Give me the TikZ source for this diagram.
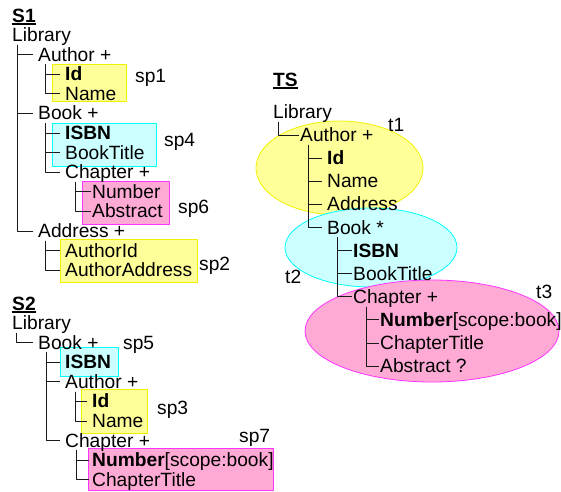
\documentclass[tikz,border=0pt]{standalone}
\usepackage{fontspec}
\setmainfont{Liberation Sans}
\definecolor{yfill}{HTML}{FFFF99}
\definecolor{yline}{HTML}{F0F000}
\definecolor{cfill}{HTML}{CCFFFF}
\definecolor{cline}{HTML}{00FFFF}
\definecolor{pfill}{HTML}{FFAAD5}
\definecolor{pline}{HTML}{FF33FF}
\begin{document}
\begin{tikzpicture}[x=1pt,y=-1pt,line join=round,font=\fontsize{19.2pt}{22pt}\selectfont,
	item/.style={anchor=west,inner xsep=0pt,inner ysep=0pt,text height=16pt,text depth=3pt},
	branch/.style={draw=black!90,line width=0.9pt,shorten >=5pt},
	twig/.style={branch,shorten >=1pt},
	ybox/.style={fill=yfill,draw=yline,line width=0.8pt},
	cbox/.style={fill=cfill,draw=cline,line width=0.8pt},
	pbox/.style={fill=pfill,draw=pline,line width=0.8pt}]
	\useasboundingbox (0,0) rectangle (561,491);
	\def \sdy{19.6};
	\def \tdy{23.1};
	% highlight boxes and ellipses
	\filldraw[ybox] (52,64) rectangle (126,101);
	\filldraw[cbox] (52,123) rectangle (156,166);
	\filldraw[pbox] (82,181) rectangle (169,224);
	\filldraw[ybox] (60,239) rectangle (197,282);
	\filldraw[cbox] (60,347) rectangle (118,376);
	\filldraw[ybox] (81,389) rectangle (147,433);
	\filldraw[pbox] (88,448) rectangle (273,490);
	\filldraw[ybox] (339.5,168) ellipse [x radius=83.5pt, y radius=47pt];
	\filldraw[cbox] (371,247.5) ellipse [x radius=86pt, y radius=39.5pt];
	\filldraw[pbox] (432,331) ellipse [x radius=127pt, y radius=51pt];
	% titles
	\foreach \n/\x/\y/\t in {s1/12/16/S1, s2/12/304/S2, ts/273/80/TS}{
		\node[item] (\n) at (\x,\y) {\textbf{\t}};
		\draw[line width=1.8pt] ([yshift=-1.5pt]\n.base west) -- ([yshift=-1.5pt]\n.base east);
	}
	% S1
	\foreach \n/\x/\r/\t in {lib1/12/0/Library, aut1/38/1/{Author +}, id1/65/2/\textbf{Id}, nam1/65/3/Name,
		boo1/38/4/{Book +}, isb1/65/5/\textbf{ISBN}, tit1/65/6/BookTitle, cha1/65/7/{Chapter +},
		num1/92/8/Number, abs1/92/9/Abstract, add1/38/10/{Address +}, aid1/65/11/AuthorId, aad1/65/12/AuthorAddress}
		\node[item] (\n) at (\x,35+\sdy*\r) {\t};
	% S2
	\foreach \n/\x/\r/\t in {lib2/12/0/Library, boo2/38/1/{Book +}, isb2/65/2/\textbf{ISBN}, aut2/65/3/{Author +},
		id2/92/4/\textbf{Id}, nam2/92/5/Name, cha2/65/6/{Chapter +},
		num2/92/7/{\textbf{Number}[scope:book]}, cht2/92/8/ChapterTitle}
		\node[item] (\n) at (\x,323+\sdy*\r) {\t};
	% TS
	\foreach \n/\x/\r/\t in {libT/273/0/Library, autT/300/1/{Author +}, idT/327/2/\textbf{Id}, namT/327/3/Name,
		addT/327/4/Address, bokT/327/5/{Book *}, isbT/353/6/\textbf{ISBN}, titT/353/7/BookTitle,
		chaT/353/8/{Chapter +}, numT/380/9/{\textbf{Number}[scope:book]}, chtT/380/10/ChapterTitle, absT/380/11/{Abstract ?}}
		\node[item] (\n) at (\x,112+\tdy*\r) {\t};
	% labels
	\foreach \n/\x/\y in {sp1/135/75.5, sp4/164/140, sp6/178/206.5, sp2/199/263.5, sp5/123/343,
		sp3/157/408, sp7/239/435.5, t1/388/125, t2/285/276.5, t3/536/291.5}
		\node[item] (\n) at (\x,\y) {\n};
	% tree lines
	\foreach \c in {aut1,boo1,add1}{\draw[branch] ([xshift=5pt]lib1.south west) |- (\c.west);}
	\foreach \c in {id1,nam1}{\draw[branch] ([xshift=7pt]aut1.south west) |- (\c.west);}
	\foreach \c in {isb1,tit1,cha1}{\draw[branch] ([xshift=7pt]boo1.south west) |- (\c.west);}
	\foreach \c in {num1,abs1}{\draw[twig] ([xshift=10pt]cha1.south west) |- (\c.west);}
	\foreach \c in {aid1,aad1}{\draw[branch] ([xshift=7pt]add1.south west) |- (\c.west);}
	\draw[branch] ([xshift=4pt]lib2.south west) |- (boo2.west);
	\foreach \c in {isb2,aut2,cha2}{\draw[branch] ([xshift=8pt]boo2.south west) |- (\c.west);}
	\foreach \c in {id2,nam2}{\draw[branch] ([xshift=10pt]aut2.south west) |- (\c.west);}
	\foreach \c in {num2,cht2}{\draw[branch,shorten >=3pt] ([xshift=11pt]cha2.south west) |- (\c.west);}
	\draw[twig] ([xshift=5pt]libT.south west) |- (autT.west);
	\foreach \c in {idT,namT,addT,bokT}{\draw[branch] ([xshift=8pt]autT.south west) |- (\c.west);}
	\foreach \c in {isbT,titT,chaT}{\draw[twig] ([xshift=10pt]bokT.south west) |- (\c.west);}
	\foreach \c in {numT,chtT,absT}{\draw[twig] ([xshift=13pt]chaT.south west) |- (\c.west);}
\end{tikzpicture}
\end{document}
